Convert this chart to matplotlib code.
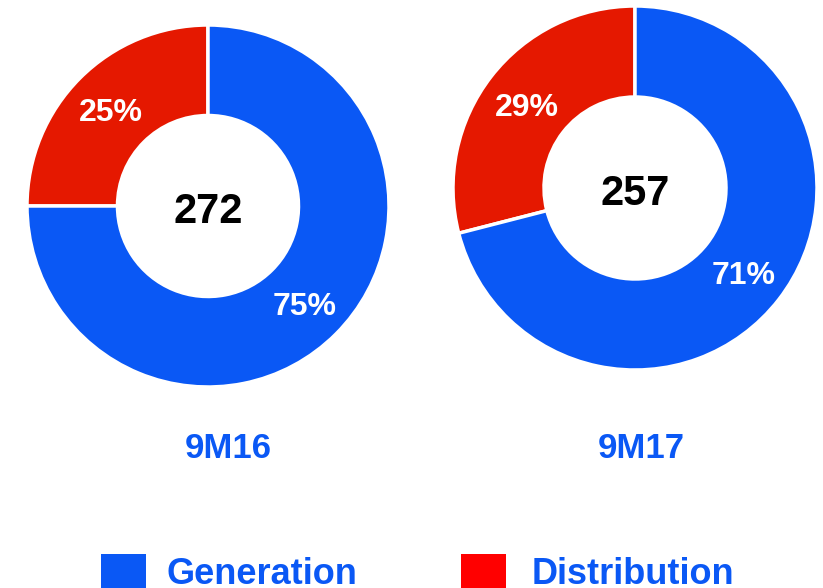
import matplotlib.pyplot as plt

plt.rcParams['font.family'] = ['Liberation Sans', 'DejaVu Sans']

# data
periods = ["9M16", "9M17"]
totals = [272, 257]
generation = [75, 71]
distribution = [25, 29]
legend_labels = ["Generation", "Distribution"]

blue = "#0A58F5"
red = "#E51800"
legend_red = "#FF0000"

W, H = 823, 588
fig = plt.figure(figsize=(W / 100, H / 100), dpi=100)

# (center x, center y, radius) in pixels
spots = [(208, 206, 181), (635, 188, 182)]

for i, (cx, cy, r) in enumerate(spots):
    ax = fig.add_axes([(cx - r) / W, (H - cy - r) / H, 2 * r / W, 2 * r / H])
    wedges, texts, autotexts = ax.pie(
        [distribution[i], generation[i]],
        colors=[red, blue],
        startangle=90,
        counterclock=True,
        radius=1,
        autopct="%d%%",
        pctdistance=0.755,
        wedgeprops=dict(width=0.5, edgecolor="white", linewidth=2.5),
        textprops=dict(color="white", fontsize=23, fontweight="bold"),
    )
    for t in autotexts:
        x, y = t.get_position()
        t.set_position((x, y - 0.022))
    ax.set_xlim(-1, 1)
    ax.set_ylim(-1, 1)
    ax.text(0, -0.035, str(totals[i]), ha="center", va="center",
            fontsize=30, fontweight="bold", color="black")
    ax.axis("off")

# period labels
fig.text(228 / W, 1 - 449 / H, periods[0], ha="center", va="center",
         fontsize=25, fontweight="bold", color=blue)
fig.text(641 / W, 1 - 449 / H, periods[1], ha="center", va="center",
         fontsize=25, fontweight="bold", color=blue)

# legend
for x0, col, lab, tx in [(101, blue, legend_labels[0], 166),
                         (461, legend_red, legend_labels[1], 532)]:
    fig.patches.append(plt.Rectangle((x0 / W, 0), 45 / W, 34 / H,
                                     transform=fig.transFigure,
                                     facecolor=col, edgecolor="none"))
    fig.text(tx / W, 1 - 574 / H, lab, ha="left", va="center",
             fontsize=26, fontweight="bold", color=blue)

fig.savefig("out.png", dpi=100)
